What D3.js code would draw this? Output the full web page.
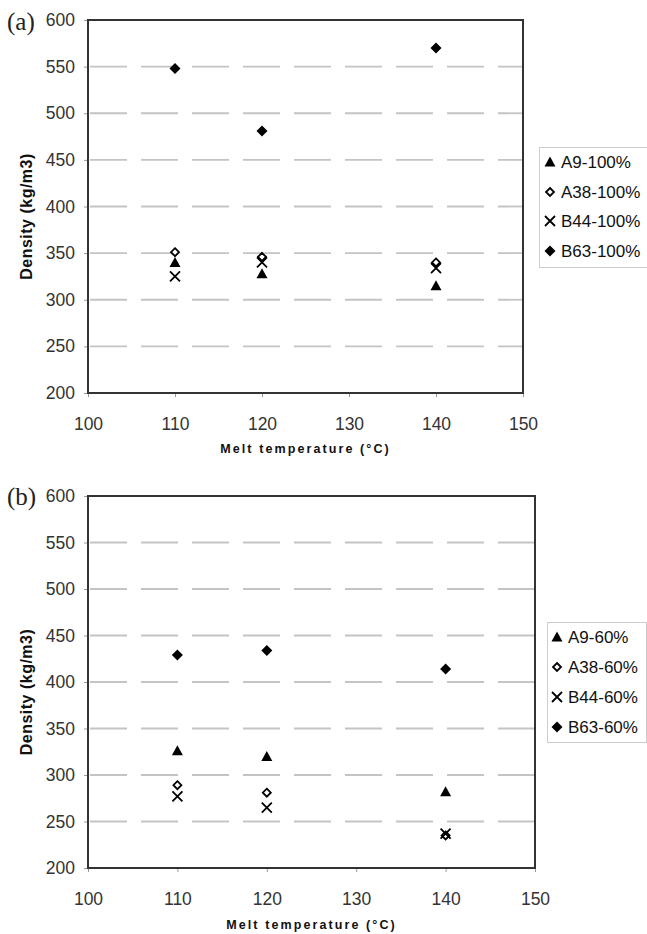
<!DOCTYPE html>
<html><head><meta charset="utf-8">
<script src="https://cdn.jsdelivr.net/npm/d3@7"></script>
<style>body{margin:0;background:#fff}svg{display:block}</style>
</head><body>
<script>
const meltTemps = [110, 120, 140];
const xTicks = [100, 110, 120, 130, 140, 150];
const yTicks = [200, 250, 300, 350, 400, 450, 500, 550, 600];

const a9_100  = [340, 328, 315];
const a38_100 = [351, 346, 340];
const b44_100 = [325, 340, 334];
const b63_100 = [548, 481, 570];

const a9_60  = [326, 320, 282];
const a38_60 = [289, 281, 235];
const b44_60 = [277, 265, 237];
const b63_60 = [429, 434, 414];

const seriesNames100 = ["A9-100%", "A38-100%", "B44-100%", "B63-100%"];
const seriesNames60 = ["A9-60%", "A38-60%", "B44-60%", "B63-60%"];
const markerKinds = ["triangle", "openDiamond", "cross", "diamond"];

const W = 647, H = 934;
const svg = d3.select("body").append("svg").attr("width", W).attr("height", H);

const panels = [
  {label: "(a)", labelY: 30, left: 88, right: 523, top: 20, bottom: 393, xLabY: 424, xTitleY: 453,
   series: [a9_100, a38_100, b44_100, b63_100], names: seriesNames100,
   legend: {x: 539, y: 147, w: 110, h: 120, symX: 550, textX: 561, rows: [162, 192, 221, 251]}},
  {label: "(b)", labelY: 505, left: 88, right: 535, top: 496, bottom: 868, xLabY: 899, xTitleY: 929,
   series: [a9_60, a38_60, b44_60, b63_60], names: seriesNames60,
   legend: {x: 547, y: 622, w: 99, h: 120, symX: 557, textX: 568, rows: [637, 667, 697, 727]}}
];

function drawMarker(g, kind, cx, cy) {
  if (kind === "triangle") {
    g.append("path").attr("d", `M${cx},${cy-5.5}L${cx+5.5},${cy+4.5}L${cx-5.5},${cy+4.5}Z`).attr("fill", "#000");
  } else if (kind === "diamond") {
    g.append("path").attr("d", `M${cx},${cy-5.5}L${cx+5.5},${cy}L${cx},${cy+5.5}L${cx-5.5},${cy}Z`).attr("fill", "#000");
  } else if (kind === "openDiamond") {
    g.append("path").attr("d", `M${cx},${cy-4}L${cx+4},${cy}L${cx},${cy+4}L${cx-4},${cy}Z`)
      .attr("fill", "#fff").attr("stroke", "#000").attr("stroke-width", 1.8);
  } else if (kind === "cross") {
    g.append("path").attr("d", `M${cx-5},${cy-5}L${cx+5},${cy+5}M${cx+5},${cy-5}L${cx-5},${cy+5}`)
      .attr("stroke", "#000").attr("stroke-width", 1.8).attr("fill", "none");
  }
}

panels.forEach(p => {
  const x = d3.scaleLinear().domain([100, 150]).range([p.left, p.right]);
  const y = d3.scaleLinear().domain([200, 600]).range([p.bottom, p.top]);
  const g = svg.append("g");

  // gridlines
  g.selectAll(".grid").data(yTicks.filter(v => v > 200 && v < 600)).enter().append("line")
    .attr("x1", p.left + 2).attr("x2", p.right - 1)
    .attr("y1", d => y(d)).attr("y2", d => y(d))
    .attr("stroke", "#c4c4c4").attr("stroke-width", 1.8)
    .attr("stroke-dasharray", "37,14");

  // y axis
  const yAxis = d3.axisLeft(y).tickValues(yTicks).tickSize(4).tickPadding(9).tickFormat(d3.format("d"));
  const ya = g.append("g").attr("transform", `translate(${p.left},0)`).call(yAxis);
  ya.select(".domain").remove();
  ya.selectAll("line").attr("stroke", "#999");
  ya.selectAll("text").attr("font-family", "Liberation Sans, Arial, sans-serif").attr("font-size", 17.5).attr("fill", "#333");

  // x axis
  const xAxis = d3.axisBottom(x).tickValues(xTicks).tickSize(4).tickFormat(d3.format("d"));
  const xa = g.append("g").attr("transform", `translate(0,${p.bottom})`).call(xAxis);
  xa.select(".domain").remove();
  xa.selectAll("line").attr("stroke", "#999");
  xa.selectAll("text").attr("y", null).attr("dy", null)
    .attr("transform", `translate(0,${p.xLabY - p.bottom + 6})`)
    .attr("font-family", "Liberation Sans, Arial, sans-serif").attr("font-size", 17.5).attr("fill", "#333");

  // border
  g.append("rect").attr("x", p.left).attr("y", p.top).attr("width", p.right - p.left).attr("height", p.bottom - p.top)
    .attr("fill", "none").attr("stroke", "#333").attr("stroke-width", 2);

  // points
  p.series.forEach((vals, si) => {
    vals.forEach((v, i) => drawMarker(g, markerKinds[si], x(meltTemps[i]), y(v)));
  });

  // titles
  g.append("text").attr("x", (p.left + p.right) / 2).attr("y", p.xTitleY)
    .attr("text-anchor", "middle").attr("font-family", "Liberation Sans, Arial, sans-serif")
    .attr("font-weight", "bold").attr("font-size", 12.5).attr("letter-spacing", 2.1).attr("fill", "#111")
    .text("Melt temperature (°C)");
  const yc = (p.top + p.bottom) / 2 + 10;
  g.append("text").attr("transform", `translate(32,${yc}) rotate(-90)`)
    .attr("text-anchor", "middle").attr("font-family", "Liberation Sans, Arial, sans-serif")
    .attr("font-weight", "bold").attr("font-size", 16).attr("letter-spacing", 0.5).attr("fill", "#111")
    .text("Density (kg/m3)");
  g.append("text").attr("x", 7).attr("y", p.labelY)
    .attr("font-family", "Liberation Serif, Times New Roman, serif").attr("font-size", 25).attr("fill", "#222")
    .text(p.label);

  // legend
  const L = p.legend;
  g.append("rect").attr("x", L.x + 0.5).attr("y", L.y + 0.5).attr("width", L.w).attr("height", L.h)
    .attr("fill", "#fff").attr("stroke", "#ccc").attr("stroke-width", 1);
  p.names.forEach((n, i) => {
    drawMarker(g, markerKinds[i], L.symX, L.rows[i]);
    g.append("text").attr("x", L.textX).attr("y", L.rows[i]).attr("dy", "0.35em")
      .attr("font-family", "Liberation Sans, Arial, sans-serif").attr("font-size", 17).attr("fill", "#111")
      .text(n);
  });
});
</script>
</body></html>
